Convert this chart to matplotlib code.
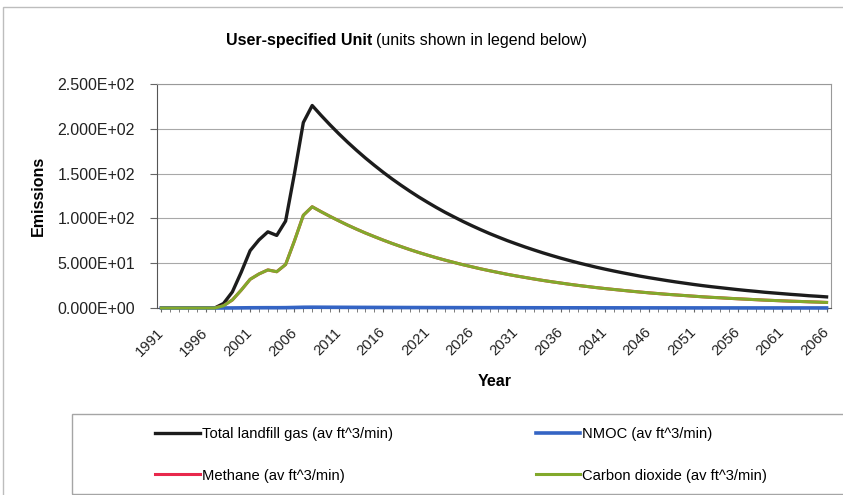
import numpy as np
import matplotlib
matplotlib.use("Agg")
import matplotlib.pyplot as plt
from matplotlib.patches import Rectangle
from matplotlib.ticker import FuncFormatter, MultipleLocator

plt.rcParams['font.family'] = ['Liberation Sans', 'DejaVu Sans']

# years 1991..2066
years = list(range(1991, 2067))

# total landfill gas (av ft^3/min)
total_gas = [0, 0, 0, 0, 0, 0, 0, 5, 18, 40, 64, 76, 85, 81, 97, 150, 207,
             226.0, 215.0, 204.5, 194.5, 185.0, 176.0, 167.4, 159.3, 151.5, 144.1,
             137.1, 130.4, 124.0, 118.0, 112.2, 106.7, 101.6, 96.6, 91.9, 87.4,
             83.1, 79.1, 75.2, 71.6, 68.1, 64.8, 61.6, 58.6, 55.7, 53.0,
             50.4, 48.0, 45.6, 43.4, 41.3, 39.3, 37.4, 35.5, 33.8, 32.2,
             30.6, 29.1, 27.7, 26.3, 25.0, 23.8, 22.7, 21.6, 20.5, 19.5,
             18.6, 17.6, 16.8, 16.0, 15.2, 14.5, 13.7, 13.1, 12.4]

# carbon dioxide (av ft^3/min)
carbon_dioxide = [0, 0, 0, 0, 0, 0, 0, 2.5, 9, 20, 32, 38, 42.5, 40.5, 48.5, 75, 103.5,
                  113.0, 107.5, 102.3, 97.3, 92.5, 88.0, 83.7, 79.7, 75.8, 72.1,
                  68.6, 65.2, 62.0, 59.0, 56.1, 53.4, 50.8, 48.3, 46.0, 43.7,
                  41.6, 39.6, 37.6, 35.8, 34.1, 32.4, 30.8, 29.3, 27.9, 26.5,
                  25.2, 24.0, 22.8, 21.7, 20.7, 19.7, 18.7, 17.8, 16.9, 16.1,
                  15.3, 14.6, 13.9, 13.2, 12.5, 11.9, 11.4, 10.8, 10.3, 9.8,
                  9.3, 8.8, 8.4, 8.0, 7.6, 7.3, 6.9, 6.6, 6.2]

# methane sits right under the CO2 line (hidden)
methane = list(carbon_dioxide)

# NMOC (av ft^3/min), practically zero on this scale
nmoc = [0, 0, 0, 0, 0, 0, 0, 0.02, 0.07, 0.16, 0.26, 0.30, 0.34, 0.32, 0.39, 0.60, 0.83,
        0.90, 0.86, 0.82, 0.78, 0.74, 0.70, 0.67, 0.64, 0.61, 0.58,
        0.55, 0.52, 0.50, 0.47, 0.45, 0.43, 0.41, 0.39, 0.37, 0.35,
        0.33, 0.32, 0.30, 0.29, 0.27, 0.26, 0.25, 0.23, 0.22, 0.21,
        0.20, 0.19, 0.18, 0.17, 0.17, 0.16, 0.15, 0.14, 0.14, 0.13,
        0.12, 0.12, 0.11, 0.11, 0.10, 0.10, 0.09, 0.09, 0.08, 0.08,
        0.07, 0.07, 0.07, 0.06, 0.06, 0.06, 0.06, 0.05, 0.05]

label_years = list(range(1991, 2067, 5))

W, H = 843, 495
fig = plt.figure(figsize=(W / 100, H / 100), dpi=100)
ax = fig.add_axes([157 / W, 1 - 308 / H, (831 - 157) / W, (308 - 84) / H])

l_total, = ax.plot(years, total_gas, color='#1c1c1c', lw=2.4, label='Total landfill gas (av ft^3/min)')
l_nmoc, = ax.plot(years, nmoc, color='#3464c4', lw=2.6, label='NMOC (av ft^3/min)',
                  clip_on=False, zorder=3)
l_ch4, = ax.plot(years, methane, color='#e8284c', lw=2.2, label='Methane (av ft^3/min)')
l_co2, = ax.plot(years, carbon_dioxide, color='#82a92c', lw=2.2, label='Carbon dioxide (av ft^3/min)',
                 clip_on=False, zorder=3.1)

ax.set_xlim(1990.5, 2066.5)
ax.set_ylim(0, 250)
ax.yaxis.set_major_locator(MultipleLocator(50))
ax.yaxis.set_major_formatter(FuncFormatter(lambda v, p: f"{v:.3E}"))
ax.grid(axis='y', color='#a8a8a8', lw=0.8)
ax.set_axisbelow(True)

ax.set_xticks(label_years)
ax.set_xticklabels([str(y) for y in label_years], rotation=45, ha='right',
                   rotation_mode='anchor', va='center')
ax.set_xticks(years, minor=True)
ax.tick_params(axis='x', which='both', length=3, color='#666666', pad=13,
               labelsize=10.75, labelcolor='#222222')
ax.tick_params(axis='y', length=5, color='#666666', pad=11,
               labelsize=11.5, labelcolor='#222222')

for s in ['top', 'right']:
    ax.spines[s].set_color('#999999')
for s in ['left', 'bottom']:
    ax.spines[s].set_color('#555555')

ax.set_ylabel('Emissions', fontsize=11.5, fontweight='bold')
ax.yaxis.set_label_coords(-(157 - 46) / (831 - 157), 0.5)
fig.text(495 / W, 1 - 382 / H, 'Year', fontsize=11.5, fontweight='bold', ha='center', va='center')

# title: bold part + normal part
t1 = fig.text(226 / W, 1 - 41 / H, 'User-specified Unit', fontsize=11.5, fontweight='bold', va='center')
fig.canvas.draw()
bb = t1.get_window_extent()
fig.text(bb.x1 / W + 4 / W, 1 - 41 / H, '(units shown in legend below)', fontsize=11.5, va='center')

# chart area border and legend box (run off the image on the right / bottom)
fig.add_artist(Rectangle((3 / W, -0.1), 1.2, 1.1 - 7 / H, transform=fig.transFigure,
                         fill=False, edgecolor='#bdbdbd', lw=1))
fig.add_artist(Rectangle((72 / W, 1 / H), 1.2, (494 - 414) / H, transform=fig.transFigure,
                         fill=False, edgecolor='#a5a5a5', lw=1))

fig.legend(handles=[l_total, l_ch4, l_nmoc, l_co2], ncol=2, frameon=False,
           loc='upper left', bbox_to_anchor=(148 / W, 1 - 420 / H),
           borderpad=0, handlelength=3.0, handletextpad=0.15, columnspacing=9.7,
           labelspacing=1.85, fontsize=10.6)

fig.savefig('out.png', dpi=100)
